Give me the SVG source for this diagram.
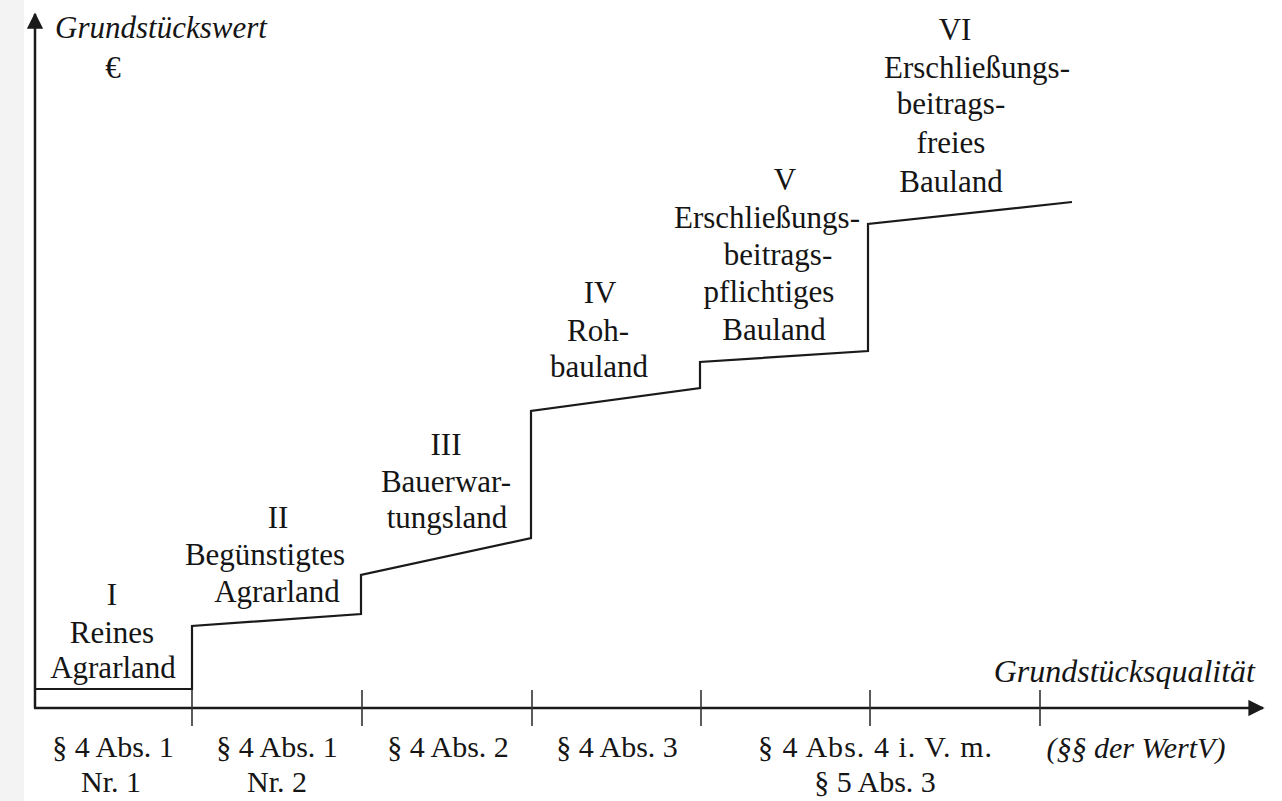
<svg xmlns="http://www.w3.org/2000/svg" width="1282" height="801" viewBox="0 0 1282 801">
<style>
text{font-family:"Liberation Serif","Times New Roman",serif;fill:#151515;text-anchor:middle}
.lbl{font-size:31px}
.ref{font-size:30px}
.it{font-style:italic}
.ax{stroke:#1a1a1a;stroke-width:2.5;fill:none}
.st{stroke:#1a1a1a;stroke-width:2.2;fill:none;stroke-linejoin:miter}
.tk{stroke:#333;stroke-width:1.6}
</style>
<defs>
<marker id="arr" viewBox="0 0 10 10" refX="9" refY="5" markerWidth="6.5" markerHeight="6.5" markerUnits="strokeWidth" orient="auto">
<path d="M0,0 L10,5 L0,10 Z" fill="#1a1a1a"/>
</marker>
</defs>
<rect x="0" y="0" width="1282" height="801" fill="#ffffff"/>
<rect x="0" y="0" width="24" height="801" fill="#f3f3f3"/>
<g id="connectors">
<line class="ax" x1="35" y1="708" x2="35" y2="14" marker-end="url(#arr)"/>
<line class="ax" x1="34" y1="708" x2="1263" y2="708" marker-end="url(#arr)"/>
<line class="tk" x1="192" y1="690" x2="192" y2="726"/>
<line class="tk" x1="362" y1="690" x2="362" y2="726"/>
<line class="tk" x1="532" y1="690" x2="532" y2="726"/>
<line class="tk" x1="701" y1="690" x2="701" y2="726"/>
<line class="tk" x1="870" y1="690" x2="870" y2="726"/>
<line class="tk" x1="1040" y1="690" x2="1040" y2="726"/>
<polyline class="st" points="35,689 192,689 192,626 361,614 361,575 531,538 531,411 700,388 700,362 868,351 868,224 1072,202"/>
</g>
<g id="axis-y-label">
<text class="lbl it" x="161" y="38">Grundstückswert</text>
<text class="lbl" x="113" y="78">€</text>
</g>
<g id="axis-x-label">
<text class="lbl it" x="1255" y="682" style="text-anchor:end;font-size:32px">Grundstücksqualität</text>
</g>
<g id="stage-1">
<text class="lbl" x="112" y="605">I</text>
<text class="lbl" x="112" y="643">Reines</text>
<text class="lbl" x="113" y="678">Agrarland</text>
</g>
<g id="stage-2">
<text class="lbl" x="278" y="528">II</text>
<text class="lbl" x="265" y="565">Begünstigtes</text>
<text class="lbl" x="277" y="602">Agrarland</text>
</g>
<g id="stage-3">
<text class="lbl" x="446" y="455">III</text>
<text class="lbl" x="446" y="492">Bauerwar-</text>
<text class="lbl" x="447" y="528">tungsland</text>
</g>
<g id="stage-4">
<text class="lbl" x="600" y="303">IV</text>
<text class="lbl" x="598" y="341">Roh-</text>
<text class="lbl" x="599" y="377">bauland</text>
</g>
<g id="stage-5">
<text class="lbl" x="785" y="190">V</text>
<text class="lbl" x="767" y="228">Erschließungs-</text>
<text class="lbl" x="778" y="265">beitrags-</text>
<text class="lbl" x="769" y="302">pflichtiges</text>
<text class="lbl" x="774" y="340">Bauland</text>
</g>
<g id="stage-6">
<text class="lbl" x="955" y="40">VI</text>
<text class="lbl" x="977" y="78">Erschließungs-</text>
<text class="lbl" x="951" y="114">beitrags-</text>
<text class="lbl" x="951" y="153">freies</text>
<text class="lbl" x="951" y="192">Bauland</text>
</g>
<g id="ref-1">
<text class="ref" x="113" y="757">§ 4 Abs. 1</text>
<text class="ref" x="111" y="792">Nr. 1</text>
</g>
<g id="ref-2">
<text class="ref" x="277" y="757">§ 4 Abs. 1</text>
<text class="ref" x="277" y="792">Nr. 2</text>
</g>
<g id="ref-3">
<text class="ref" x="448" y="757">§ 4 Abs. 2</text>
</g>
<g id="ref-4">
<text class="ref" x="617" y="757">§ 4 Abs. 3</text>
</g>
<g id="ref-5">
<text class="ref" x="875" y="757" textLength="234" lengthAdjust="spacing">§ 4 Abs. 4 i. V. m.</text>
<text class="ref" x="875" y="792">§ 5 Abs. 3</text>
</g>
<g id="ref-6">
<text class="ref it" x="1136" y="758">(§§ der WertV)</text>
</g>
</svg>
